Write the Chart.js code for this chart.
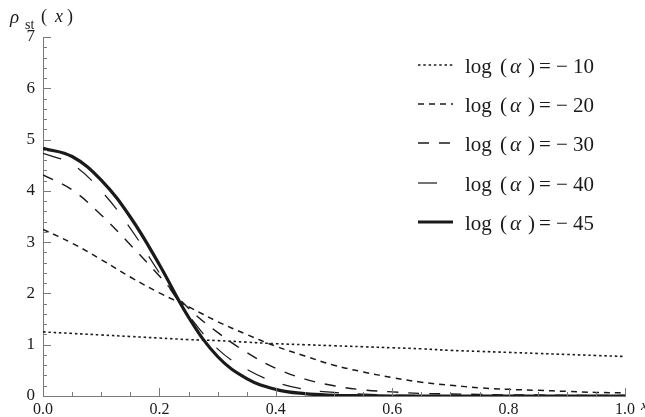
<!DOCTYPE html>
<html lang="en">
<head>
    <meta charset="UTF-8">
    <title>rho_st(x)</title>
    <script src="https://cdn.jsdelivr.net/npm/chart.js"></script>
    <style>
        body { margin: 0; background: #fff; }
        #wrap { width: 645px; height: 417px; }
    </style>
</head>
<body>
<div id="wrap"><canvas id="myChart" width="645" height="417"></canvas></div>
<script>
    const xValues = [0, 0.05, 0.1, 0.15, 0.2, 0.25, 0.3, 0.35, 0.4, 0.45, 0.5,
                     0.55, 0.6, 0.65, 0.7, 0.75, 0.8, 0.85, 0.9, 0.95, 1.0];

    const rhoM10 = [1.25, 1.22, 1.19, 1.16, 1.13, 1.10, 1.08, 1.05, 1.02, 1.00, 0.98,
                    0.96, 0.94, 0.92, 0.89, 0.87, 0.85, 0.83, 0.81, 0.79, 0.77];
    const rhoM20 = [3.25, 2.98, 2.66, 2.32, 2.01, 1.74, 1.45, 1.20, 0.97, 0.78, 0.60,
                    0.47, 0.36, 0.27, 0.21, 0.16, 0.13, 0.11, 0.09, 0.07, 0.06];
    const rhoM30 = [4.31, 4.02, 3.53, 2.95, 2.34, 1.71, 1.24, 0.85, 0.54, 0.33, 0.20,
                    0.12, 0.08, 0.05, 0.04, 0.03, 0.02, 0.02, 0.01, 0.01, 0.01];
    const rhoM40 = [4.73, 4.52, 4.00, 3.27, 2.40, 1.58, 0.92, 0.52, 0.27, 0.13, 0.07,
                    0.035, 0.02, 0.01, 0.005, 0, 0, 0, 0, 0, 0];
    const rhoM45 = [4.83, 4.67, 4.21, 3.49, 2.56, 1.54, 0.77, 0.34, 0.13, 0.045, 0.015,
                    0.005, 0, 0, 0, 0, 0, 0, 0, 0, 0];

    const seriesNames = ['\u221210', '\u221220', '\u221230', '\u221240', '\u221245'];
    const xTicks = [0, 0.2, 0.4, 0.6, 0.8, 1.0];
    const yTicks = [0, 1, 2, 3, 4, 5, 6, 7];

    const ink = '#1a1a1a';
    const axisGray = '#7a7a7a';
    const serif = "'Liberation Serif', 'Times New Roman', serif";

    function pts(ys) {
        return xValues.map((x, i) => ({ x: x, y: ys[i] }));
    }

    function curve(name, ys, width, dash) {
        return {
            label: name,
            data: pts(ys),
            borderColor: ink,
            borderWidth: width,
            borderDash: dash,
            pointRadius: 0,
            fill: false,
            tension: 0.4
        };
    }

    // inward Mathematica-style ticks, axis title and the legend
    const decorations = {
        id: 'decorations',
        afterDraw(chart) {
            const ctx = chart.ctx;
            const xs = chart.scales.x, ys = chart.scales.y;
            const a = chart.chartArea;
            ctx.save();
            ctx.strokeStyle = axisGray;
            ctx.lineWidth = 1;
            ctx.beginPath();
            for (let i = 0; i <= 20; i++) {
                const px = Math.round(xs.getPixelForValue(i * 0.05)) + 0.5;
                const len = (i % 4 === 0) ? 8 : 4;
                ctx.moveTo(px, a.bottom);
                ctx.lineTo(px, a.bottom - len);
            }
            for (let i = 0; i <= 35; i++) {
                const py = Math.round(ys.getPixelForValue(i * 0.2)) + 0.5;
                const len = (i % 5 === 0) ? 8 : 4;
                ctx.moveTo(a.left, py);
                ctx.lineTo(a.left + len, py);
            }
            ctx.stroke();

            // y axis title: rho_st ( x )
            ctx.fillStyle = ink;
            ctx.textBaseline = 'alphabetic';
            ctx.textAlign = 'left';
            ctx.font = 'italic 19px ' + serif;
            ctx.fillText('\u03c1', 10, 23);
            ctx.font = '14px ' + serif;
            ctx.fillText('st', 25, 29);
            ctx.font = '18px ' + serif;
            ctx.fillText('(', 41, 22);
            ctx.fillText(')', 67, 22);
            ctx.font = 'italic 18px ' + serif;
            ctx.fillText('x', 55, 22);

            // clipped axis label at the far right
            ctx.font = 'italic 15px ' + serif;
            ctx.fillText('x', 641, 410);

            // legend
            const rowsY = [65, 104, 143, 183, 222];
            chart.data.datasets.forEach((ds, i) => {
                const y = rowsY[i];
                ctx.strokeStyle = ink;
                ctx.lineWidth = ds.borderWidth;
                ctx.setLineDash(ds.borderDash || []);
                ctx.beginPath();
                ctx.moveTo(418, y);
                ctx.lineTo(453, y);
                ctx.stroke();
                ctx.setLineDash([]);

                const base = y + 8;
                ctx.fillStyle = ink;
                ctx.font = '21px ' + serif;
                ctx.fillText('log', 465, base);
                ctx.fillText('(', 500, base);
                ctx.fillText(')', 528, base);
                ctx.fillText('=', 539, base);
                ctx.fillText('\u2212', 556, base);
                ctx.fillText(ds.label.replace('\u2212', ''), 573, base);
                ctx.font = 'italic 21px ' + serif;
                ctx.fillText('\u03b1', 510, base);
            });
            ctx.restore();
        }
    };

    function draw() {
        const ctx = document.getElementById('myChart').getContext('2d');
        new Chart(ctx, {
            type: 'line',
            data: {
                datasets: [
                    curve(seriesNames[0], rhoM10, 1.6, [2.5, 2.8]),
                    curve(seriesNames[1], rhoM20, 1.5, [6, 5]),
                    curve(seriesNames[2], rhoM30, 1.4, [11, 10]),
                    curve(seriesNames[3], rhoM40, 1.2, [19, 19]),
                    curve(seriesNames[4], rhoM45, 3.2, [])
                ]
            },
            options: {
                responsive: false,
                animation: false,
                layout: { padding: { top: 37, right: 20, left: 0, bottom: 0 } },
                plugins: {
                    legend: { display: false },
                    tooltip: { enabled: false }
                },
                scales: {
                    x: {
                        type: 'linear',
                        min: 0,
                        max: 1,
                        afterFit: s => { s.height = 21; },
                        afterBuildTicks: s => { s.ticks = xTicks.map(v => ({ value: v })); },
                        grid: { display: false, drawTicks: false },
                        border: { display: true, color: axisGray, width: 1 },
                        ticks: {
                            padding: 4,
                            color: ink,
                            maxRotation: 0,
                            font: { family: serif, size: 16 },
                            callback: v => Number(v).toFixed(1)
                        }
                    },
                    y: {
                        min: 0,
                        max: 7,
                        afterFit: s => { s.width = 43; },
                        afterBuildTicks: s => { s.ticks = yTicks.map(v => ({ value: v })); },
                        grid: { display: false, drawTicks: false },
                        border: { display: true, color: axisGray, width: 1 },
                        ticks: {
                            padding: 8,
                            color: ink,
                            font: { family: serif, size: 17 }
                        }
                    }
                }
            },
            plugins: [decorations]
        });
    }

    Promise.all([
        document.fonts.load("16px 'Liberation Serif'"),
        document.fonts.load("italic 16px 'Liberation Serif'")
    ]).then(draw, draw);
</script>
</body>
</html>
